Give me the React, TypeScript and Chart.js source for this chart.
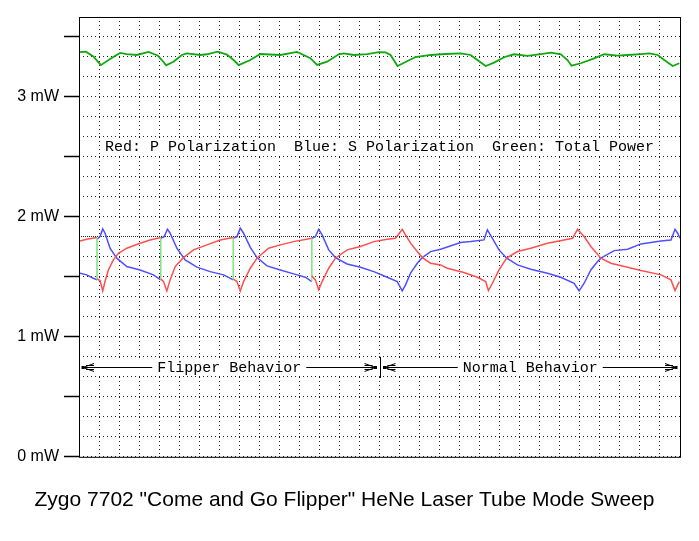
import React, { useEffect, useRef } from 'react';
import { Chart, registerables } from 'chart.js';

Chart.register(...registerables);

// ---------- text ----------
const TITLE = 'Zygo 7702 "Come and Go Flipper" HeNe Laser Tube Mode Sweep';
const LEGEND_TEXT = 'Red: P Polarization  Blue: S Polarization  Green: Total Power';
const LEGEND_AT = [15, 2.58];
const behaviorLabels = ['Flipper Behavior', 'Normal Behavior'];
const behaviorStart = [0, 15];
const behaviorEnd = [15, 30];
const BEHAVIOR_Y = 0.75;
const DIVIDER_X = 15;
const DIVIDER_RANGE = [0.658, 0.833];

// ---------- axes ----------
const X_MIN = 0;
const X_MAX = 30;
const Y_MIN = 0;
const Y_MAX = 22 / 6;
const yGridValues = Array.from({ length: 23 }, (_, i) => i / 6);
const xGridValues = Array.from({ length: 31 }, (_, i) => i);
const yMajorStep = 0.5;
const yLabelValues = [0, 1, 2, 3];
const yLabelTexts = ['0 mW', '1 mW', '2 mW', '3 mW'];
const DENSE_GRID_VALUE = 11 / 6;

// ---------- series (sweep position, mW) ----------
const redX = [0.05, 0.385, 0.9, 0.9, 1.05, 1.185, 1.3, 1.465, 1.715, 1.965, 2.385, 3.05, 3.55, 4.08, 4.08, 4.215, 4.385, 4.55, 4.8, 5.185, 5.715, 6.385, 7.05, 7.7, 7.7, 7.885, 8.05, 8.215, 8.55, 8.885, 9.465, 10.05, 10.715, 11.62, 11.62, 11.8, 11.965, 12.135, 12.465, 12.8, 13.385, 14.05, 14.715, 15.385, 15.8, 16.135, 16.3, 16.55, 16.885, 17.135, 17.55, 18.05, 18.385, 19.215, 19.885, 20.3, 20.435, 20.635, 20.965, 21.35, 21.885, 22.55, 23.385, 24.215, 24.635, 24.885, 25.215, 25.55, 26.05, 26.55, 27.385, 28.05, 29.05, 29.55, 29.75, 29.965];
const redY = [1.8, 1.814, 1.828, 1.483, 1.469, 1.383, 1.461, 1.558, 1.642, 1.697, 1.739, 1.781, 1.808, 1.828, 1.481, 1.461, 1.383, 1.475, 1.586, 1.656, 1.725, 1.767, 1.808, 1.828, 1.481, 1.461, 1.383, 1.461, 1.572, 1.656, 1.739, 1.767, 1.794, 1.822, 1.508, 1.475, 1.392, 1.461, 1.572, 1.656, 1.725, 1.753, 1.794, 1.814, 1.822, 1.897, 1.85, 1.781, 1.711, 1.661, 1.614, 1.6, 1.572, 1.536, 1.497, 1.461, 1.386, 1.447, 1.558, 1.656, 1.711, 1.739, 1.781, 1.808, 1.822, 1.897, 1.836, 1.753, 1.656, 1.614, 1.581, 1.553, 1.517, 1.475, 1.386, 1.461];

const blueX = [0.05, 0.385, 0.715, 0.9, 0.9, 1.05, 1.185, 1.3, 1.55, 1.885, 2.385, 3.05, 3.715, 4.08, 4.08, 4.25, 4.415, 4.55, 4.885, 5.3, 5.885, 6.55, 7.215, 7.7, 7.7, 7.885, 8.05, 8.215, 8.55, 8.885, 9.385, 10.05, 10.715, 11.3, 11.62, 11.62, 11.8, 11.965, 12.135, 12.465, 12.8, 13.385, 14.05, 14.715, 15.385, 15.885, 16.135, 16.3, 16.55, 16.885, 17.135, 17.55, 18.05, 19.05, 19.55, 20.215, 20.385, 20.635, 20.965, 21.35, 21.885, 22.55, 23.385, 24.05, 24.715, 24.965, 25.215, 25.55, 25.885, 26.05, 26.715, 27.385, 28.05, 29.05, 29.55, 29.75, 29.885, 30];
const blueY = [1.531, 1.517, 1.489, 1.475, 1.814, 1.836, 1.9, 1.864, 1.739, 1.656, 1.586, 1.558, 1.517, 1.475, 1.822, 1.836, 1.897, 1.864, 1.739, 1.642, 1.581, 1.544, 1.517, 1.475, 1.822, 1.836, 1.906, 1.864, 1.746, 1.661, 1.592, 1.558, 1.525, 1.497, 1.461, 1.822, 1.836, 1.897, 1.85, 1.725, 1.661, 1.608, 1.581, 1.544, 1.497, 1.461, 1.383, 1.433, 1.531, 1.614, 1.661, 1.711, 1.731, 1.786, 1.794, 1.808, 1.892, 1.822, 1.725, 1.656, 1.6, 1.564, 1.531, 1.497, 1.447, 1.383, 1.447, 1.558, 1.628, 1.656, 1.719, 1.731, 1.775, 1.8, 1.808, 1.897, 1.864, 1.822];

const greenX = [0.05, 0.35, 0.715, 1.09, 1.55, 2.05, 2.385, 2.885, 3.465, 3.925, 4.135, 4.35, 4.715, 5.135, 5.385, 6.05, 6.385, 6.925, 7.385, 7.715, 7.975, 8.55, 9.05, 10.05, 10.885, 11.55, 11.885, 12.385, 12.965, 13.215, 13.715, 14.385, 14.965, 15.3, 15.55, 15.9, 16.3, 16.8, 17.55, 18.3, 19.05, 19.55, 19.885, 20.3, 20.715, 21.215, 21.715, 22.385, 23.05, 23.55, 24.05, 24.385, 24.585, 25.05, 25.715, 26.215, 26.885, 27.385, 28.05, 28.465, 28.885, 29.215, 29.635, 29.965];
const greenY = [3.373, 3.378, 3.338, 3.265, 3.317, 3.367, 3.358, 3.35, 3.375, 3.346, 3.308, 3.264, 3.294, 3.35, 3.364, 3.35, 3.356, 3.378, 3.353, 3.308, 3.265, 3.308, 3.358, 3.35, 3.375, 3.323, 3.267, 3.294, 3.356, 3.364, 3.35, 3.358, 3.373, 3.371, 3.35, 3.258, 3.292, 3.333, 3.35, 3.358, 3.364, 3.35, 3.308, 3.258, 3.286, 3.331, 3.356, 3.342, 3.358, 3.369, 3.356, 3.308, 3.261, 3.281, 3.322, 3.356, 3.344, 3.35, 3.358, 3.364, 3.35, 3.308, 3.258, 3.281];

const toPoints = (xs: number[], ys: number[]) => xs.map((x, i) => ({ x, y: ys[i] }));

const JUMP_COLOR = '#86e486';
const jumpSegment = {
  borderColor: (c: any) => (c.p0.parsed.x === c.p1.parsed.x ? JUMP_COLOR : undefined),
  borderWidth: (c: any) => (c.p0.parsed.x === c.p1.parsed.x ? 1.2 : undefined),
};

const SANS = '"Liberation Sans", Arial, Helvetica, sans-serif';
const MONO = '"Liberation Mono", "Courier New", "DejaVu Sans Mono", monospace';

const isMajor = (v: number) => Math.abs(v / yMajorStep - Math.round(v / yMajorStep)) < 1e-6;

const annotationPlugin = {
  id: 'annotations',
  afterDatasetsDraw(chart: any) {
    const { ctx, chartArea, scales } = chart;
    const xs = scales.x;
    const ys = scales.y;
    ctx.save();
    ctx.font = '15px ' + MONO;
    ctx.textBaseline = 'middle';
    ctx.textAlign = 'center';

    // legend text
    const lx = xs.getPixelForValue(LEGEND_AT[0]);
    const ly = ys.getPixelForValue(LEGEND_AT[1]);
    const lw = ctx.measureText(LEGEND_TEXT).width;
    ctx.fillStyle = '#fff';
    ctx.fillRect(lx - lw / 2 - 3, ly - 8, lw + 6, 16);
    ctx.fillStyle = '#000';
    ctx.fillText(LEGEND_TEXT, lx, ly);

    // behaviour arrows
    const ay = Math.round(ys.getPixelForValue(BEHAVIOR_Y)) + 0.5;
    ctx.fillStyle = '#fff';
    ctx.fillRect(chartArea.left + 1, ay - 8.5, chartArea.right - chartArea.left - 1, 16);
    ctx.strokeStyle = '#000';
    ctx.lineWidth = 1;
    behaviorLabels.forEach((label, k) => {
      const x0 = xs.getPixelForValue(behaviorStart[k]) + (k === 0 ? 4 : 5);
      const x1 = xs.getPixelForValue(behaviorEnd[k]) - 4;
      ctx.beginPath();
      ctx.moveTo(x0, ay);
      ctx.lineTo(x1, ay);
      ctx.stroke();
      const head = (tip: number, dir: number) => {
        ctx.beginPath();
        ctx.moveTo(tip, ay);
        ctx.lineTo(tip + dir * 11, ay - 4);
        ctx.moveTo(tip, ay);
        ctx.lineTo(tip + dir * 11, ay + 4);
        ctx.moveTo(tip + dir * 3, ay - 2);
        ctx.lineTo(tip + dir * 11, ay - 2);
        ctx.moveTo(tip + dir * 3, ay + 2);
        ctx.lineTo(tip + dir * 11, ay + 2);
        ctx.stroke();
        ctx.fillStyle = '#000';
        ctx.fillRect(tip - 1.5, ay - 1.5, 3, 3);
      };
      head(x0, 1);
      head(x1, -1);
      const cx = (x0 + x1) / 2;
      const tw = ctx.measureText(label).width;
      ctx.fillStyle = '#fff';
      ctx.fillRect(cx - tw / 2 - 5, ay - 8.5, tw + 10, 16);
      ctx.fillStyle = '#000';
      ctx.fillText(label, cx, ay + 0.5);
    });

    // divider between behaviours
    const dx = Math.round(xs.getPixelForValue(DIVIDER_X)) + 0.5;
    ctx.beginPath();
    ctx.moveTo(dx, ys.getPixelForValue(DIVIDER_RANGE[1]));
    ctx.lineTo(dx, ys.getPixelForValue(DIVIDER_RANGE[0]));
    ctx.stroke();

    // plot frame
    ctx.strokeStyle = '#000';
    ctx.lineWidth = 1;
    ctx.strokeRect(
      chartArea.left + 0.5,
      chartArea.top + 0.5,
      chartArea.right - chartArea.left,
      chartArea.bottom - chartArea.top
    );
    ctx.restore();
  },
};

export default function App() {
  const ref = useRef<HTMLCanvasElement>(null);

  useEffect(() => {
    const canvas = ref.current;
    if (!canvas) return;
    const chart = new Chart(canvas, {
      type: 'line',
      data: {
        datasets: [
          {
            label: 'Red: P Polarization',
            data: toPoints(redX, redY),
            borderColor: '#ff4f4f',
            borderWidth: 1.5,
            pointRadius: 0,
            tension: 0,
            segment: jumpSegment,
          },
          {
            label: 'Blue: S Polarization',
            data: toPoints(blueX, blueY),
            borderColor: '#4f4fff',
            borderWidth: 1.5,
            pointRadius: 0,
            tension: 0,
            segment: jumpSegment,
          },
          {
            label: 'Green: Total Power',
            data: toPoints(greenX, greenY),
            borderColor: '#10a810',
            borderWidth: 1.8,
            pointRadius: 0,
            tension: 0,
          },
        ],
      },
      options: {
        responsive: false,
        animation: false,
        events: [],
        layout: { padding: { left: 9, right: 19, top: 17, bottom: 28 } },
        plugins: {
          legend: { display: false },
          tooltip: { enabled: false },
          title: {
            display: true,
            text: TITLE,
            position: 'bottom',
            color: '#000',
            font: { family: SANS, size: 21, weight: 'normal' },
            padding: { top: 31, bottom: 0 },
          },
        },
        scales: {
          x: {
            type: 'linear',
            min: X_MIN,
            max: X_MAX,
            afterBuildTicks: (scale: any) => {
              scale.ticks = xGridValues.map((v) => ({ value: v }));
            },
            ticks: { display: false },
            grid: { color: '#222', lineWidth: 1, drawTicks: false },
            border: { display: false, dash: [1, 3] },
          },
          y: {
            type: 'linear',
            min: Y_MIN,
            max: Y_MAX,
            afterBuildTicks: (scale: any) => {
              scale.ticks = yGridValues.map((v) => ({ value: v }));
            },
            afterFit: (scale: any) => {
              scale.width = 70;
            },
            ticks: {
              autoSkip: false,
              padding: 5,
              color: '#000',
              font: { family: SANS, size: 16 },
              callback: (v: any) => {
                const i = yLabelValues.findIndex((l) => Math.abs(l - Number(v)) < 1e-6);
                return i >= 0 ? yLabelTexts[i] : '';
              },
            },
            grid: {
              color: '#222',
              lineWidth: 1,
              tickLength: 15,
              tickWidth: 1.5,
              tickColor: (c: any) =>
                c.tick && isMajor(c.tick.value) ? '#000' : 'rgba(0,0,0,0)',
            },
            border: {
              display: false,
              dash: (c: any) =>
                c.tick && Math.abs(c.tick.value - DENSE_GRID_VALUE) < 1e-6 ? [1, 1] : [1, 3],
            },
          },
        },
      },
      plugins: [annotationPlugin],
    } as any);
    return () => chart.destroy();
  }, []);

  return (
    <div style={{ position: 'fixed', left: 0, top: 0, width: 699, height: 541, background: '#fff' }}>
      <canvas ref={ref} width={699} height={541} style={{ display: 'block' }} />
    </div>
  );
}
